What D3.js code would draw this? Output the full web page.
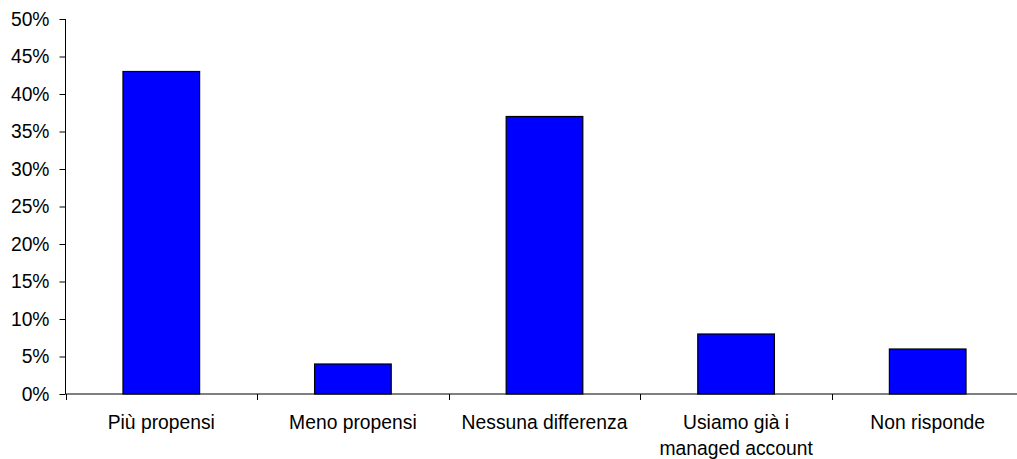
<!DOCTYPE html>
<meta charset="utf-8">
<style>
body { margin: 0; background: #fff; }
text { font-family: "Liberation Sans", Arial, sans-serif; font-size: 19.3px; fill: #000; }
.bar { fill: #0000ff; stroke: #000; stroke-width: 1.2px; }
</style>
<body>
<script src="https://d3js.org/d3.v7.min.js"></script>
<script>

var categories = ["Più propensi", "Meno propensi", "Nessuna differenza", "Usiamo già i|managed account", "Non risponde"];
var values = [43, 4, 37, 8, 6];
var yTicks = [0, 5, 10, 15, 20, 25, 30, 35, 40, 45, 50];

var width = 1017, height = 459;
var plotLeft = 65.5, plotTop = 19, plotBottom = 394;
var band = 191.6;

var svg = d3.select("body").append("svg")
    .attr("width", width)
    .attr("height", height);

var x = d3.scaleBand()
    .domain(categories)
    .range([plotLeft, plotLeft + band * categories.length])
    .paddingInner(0.6)
    .paddingOuter(0.3);

var y = d3.scaleLinear()
    .domain([0, 50])
    .range([plotBottom, plotTop]);

// bars
svg.selectAll(".bar")
  .data(values)
  .enter().append("rect")
    .attr("class", "bar")
    .attr("x", function(d, i) { return x(categories[i]); })
    .attr("y", function(d) { return y(d); })
    .attr("width", x.bandwidth())
    .attr("height", function(d) { return plotBottom - y(d); });

// y axis
var yAxis = svg.append("g")
    .attr("transform", "translate(" + plotLeft + ",0)")
    .call(d3.axisLeft(y).tickValues(yTicks).tickSize(6).tickPadding(10)
      .tickFormat(function(d) { return d + "%"; }));
yAxis.select(".domain").attr("stroke", "#000").attr("d", "M0," + plotTop + "V" + plotBottom);
yAxis.selectAll(".tick line").attr("stroke", "#000");
yAxis.selectAll("text").attr("font-size", null).attr("font-family", null);

// x axis line and tick marks between categories
svg.append("line")
    .attr("x1", plotLeft).attr("x2", width)
    .attr("y1", plotBottom).attr("y2", plotBottom)
    .attr("stroke", "#000");

var bounds = d3.range(categories.length + 1).map(function(i) { return plotLeft + band * i; });
svg.selectAll(".xtick")
  .data(bounds)
  .enter().append("line")
    .attr("x1", function(d) { return Math.round(d) + 0.5; })
    .attr("x2", function(d) { return Math.round(d) + 0.5; })
    .attr("y1", plotBottom)
    .attr("y2", plotBottom + 6)
    .attr("stroke", "#000");

// category labels
svg.selectAll(".xlabel")
  .data(categories)
  .enter().append("text")
    .attr("text-anchor", "middle")
    .attr("transform", function(d) {
      return "translate(" + (x(d) + x.bandwidth() / 2) + "," + 429 + ")";
    })
    .each(function(d) {
      var lines = d.split("|");
      var t = d3.select(this);
      lines.forEach(function(l, i) {
        t.append("tspan").attr("x", 0).attr("y", i * 26).text(l);
      });
    });

</script>
</body>
